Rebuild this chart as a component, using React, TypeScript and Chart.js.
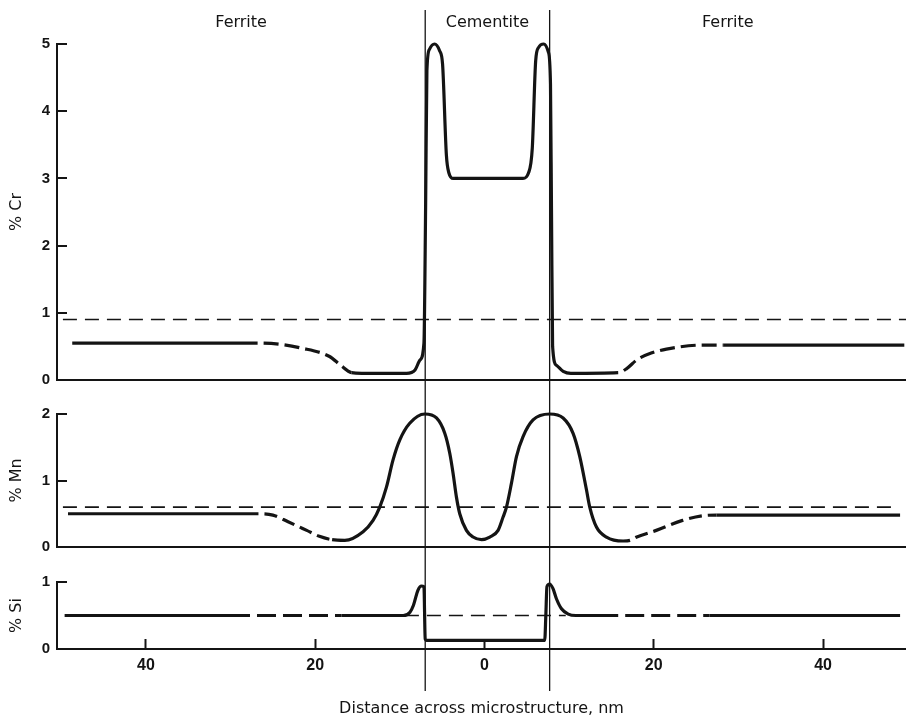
import { useEffect, useRef } from 'react';
import { Chart, registerables } from 'chart.js';

Chart.register(...registerables);

// Phase regions across the lamella and their boundaries (nm)
const PHASES = ['Ferrite', 'Cementite', 'Ferrite'];
const PHASE_BOUNDARIES = [-7.0, 7.7];

// Distance axis
const X_RANGE = [-50.5, 49.8];
const X_TICKS = [-40, -20, 0, 20, 40];

// Chromium profile
const CR_X = [-48.7, -26.8, -24.0, -21.8, -18.3, -17.0, -15.7, -14.5, -9.2, -8.2, -7.6, -7.15, -6.95, -6.8, -6.5, -5.9, -5.3, -4.95, -4.5, -4.2, -3.7, 4.55, 5.2, 5.65, 6.05, 6.4, 7.0, 7.55, 7.8, 7.92, 8.05, 8.5, 9.3, 10.2, 15.8, 16.8, 18.0, 19.7, 21.5, 25.8, 28.2, 49.6];
const CR_Y = [0.55, 0.55, 0.53, 0.48, 0.35, 0.22, 0.11, 0.1, 0.1, 0.15, 0.3, 0.55, 2.6, 4.6, 4.92, 5.0, 4.9, 4.7, 3.35, 3.08, 3.0, 3.0, 3.08, 3.45, 4.75, 4.95, 5.0, 4.88, 4.4, 2.5, 0.5, 0.22, 0.13, 0.1, 0.11, 0.17, 0.3, 0.4, 0.46, 0.52, 0.52, 0.52];
const CR_DASHED = [[-26.8, -15.7], [15.8, 28.2]];
const CR_AVERAGE = 0.9;
const CR_AVERAGE_SPAN = [-49.8, 49.8];

// Manganese profile
const MN_X = [-49.2, -26.7, -25.0, -23.2, -21.0, -19.5, -18.0, -16.5, -14.34, -13.16, -12.37, -11.58, -10.8, -10.0, -8.83, -7.05, -5.67, -4.69, -4.1, -3.71, -3.31, -2.92, -2.13, -1.35, -0.35, 0.63, 1.61, 2.2, 2.6, 3.19, 3.78, 4.56, 5.74, 7.71, 9.29, 10.47, 11.26, 12.05, 12.44, 13.23, 14.41, 16.38, 17.2, 18.0, 20.3, 23.4, 25.8, 27.4, 49.1];
const MN_Y = [0.5, 0.5, 0.48, 0.38, 0.25, 0.16, 0.11, 0.1, 0.23, 0.4, 0.6, 0.9, 1.31, 1.61, 1.86, 2.0, 1.94, 1.71, 1.41, 1.11, 0.75, 0.5, 0.25, 0.15, 0.11, 0.15, 0.25, 0.45, 0.6, 0.96, 1.36, 1.66, 1.91, 2.0, 1.94, 1.71, 1.36, 0.86, 0.6, 0.3, 0.15, 0.09, 0.1, 0.15, 0.25, 0.4, 0.47, 0.48, 0.48];
const MN_DASHED = [[-26.7, -18.0], [17.2, 27.4]];
const MN_AVERAGE = 0.6;
const MN_AVERAGE_SPAN = [-49.8, 48.1];

// Silicon profile
const SI_X = [-49.6, -27.7, -16.9, -9.6, -8.8, -8.4, -7.85, -7.45, -7.15, -7.0, -6.85, 7.12, 7.25, 7.38, 7.7, 8.1, 8.5, 9.1, 9.9, 10.8, 15.8, 26.6, 49.1];
const SI_Y = [0.5, 0.5, 0.5, 0.5, 0.55, 0.65, 0.88, 0.94, 0.93, 0.15, 0.13, 0.13, 0.5, 0.93, 0.97, 0.9, 0.75, 0.6, 0.52, 0.5, 0.5, 0.5, 0.5];
const SI_DASHED = [[-27.7, -16.9], [15.8, 26.6]];
const SI_AVERAGE = 0.5;
const SI_AVERAGE_SPAN = [-9.4, 9.6];

const INK = '#141414';
const TEXT_FONT = { family: '"DejaVu Sans", sans-serif', size: 16 };
const TICK_FONT = { family: '"Liberation Sans Narrow", "Liberation Sans", Arial, sans-serif', size: 15, weight: 'bold' as const };

const toPoints = (xs: number[], ys: number[]) => xs.map((x, i) => ({ x, y: ys[i] }));

// Segments whose midpoint falls inside one of the ranges are drawn dashed
const dashedSegments = (ranges: number[][], dash: number[]) => {
  const inside = (ctx: any) => {
    const mid = (ctx.p0.parsed.x + ctx.p1.parsed.x) / 2;
    return ranges.some(([a, b]) => mid > a && mid < b);
  };
  return {
    borderDash: (ctx: any) => (inside(ctx) ? dash : undefined),
    borderDashOffset: (ctx: any) => (inside(ctx) ? dash[0] : undefined),
  };
};

const profile = (xs: number[], ys: number[], ranges: number[][], dash: number[], axis: string) => ({
  data: toPoints(xs, ys),
  yAxisID: axis,
  borderColor: INK,
  borderWidth: 3.2,
  pointRadius: 0,
  cubicInterpolationMode: 'monotone' as const,
  borderCapStyle: 'butt' as const,
  clip: false as const,
  segment: dashedSegments(ranges, dash),
});

const average = (level: number, span: number[], axis: string) => ({
  data: span.map((x) => ({ x, y: level })),
  yAxisID: axis,
  borderColor: INK,
  borderWidth: 1.6,
  borderDash: [14, 8],
  pointRadius: 0,
  clip: false as const,
});

const concentrationAxis = (label: string, max: number, stackWeight: number, weight: number) => ({
  type: 'linear' as const,
  position: 'left' as const,
  stack: 'elements',
  stackWeight,
  weight,
  min: 0,
  max,
  ticks: { stepSize: 1, padding: 17, color: INK, font: TICK_FONT },
  grid: {
    tickLength: -10,
    tickWidth: 2,
    tickColor: INK,
    lineWidth: 2,
    color: (ctx: any) => (ctx.tick && ctx.tick.value === 0 ? INK : 'transparent'),
  },
  border: { color: INK, width: 2 },
  title: { display: true, text: label, color: INK, font: TEXT_FONT, padding: { top: 7, bottom: 0 } },
  afterFit: (scale: any) => {
    scale.width = 57;
  },
});

const spacerAxis = (stackWeight: number, weight: number) => ({
  type: 'linear' as const,
  position: 'left' as const,
  display: false,
  stack: 'elements',
  stackWeight,
  weight,
  min: 0,
  max: 1,
});

// Phase boundaries and region names
const phasePlugin = {
  id: 'phases',
  afterDraw(chart: any) {
    const { ctx } = chart;
    const x = chart.scales.x;
    const edges = [x.min, ...PHASE_BOUNDARIES, x.max];
    ctx.save();
    ctx.strokeStyle = INK;
    ctx.lineWidth = 1.3;
    PHASE_BOUNDARIES.forEach((b) => {
      const px = x.getPixelForValue(b);
      ctx.beginPath();
      ctx.moveTo(px, 10);
      ctx.lineTo(px, 691);
      ctx.stroke();
    });
    ctx.fillStyle = INK;
    ctx.font = `${TEXT_FONT.size}px ${TEXT_FONT.family}`;
    ctx.textAlign = 'center';
    ctx.textBaseline = 'alphabetic';
    PHASES.forEach((name, i) => {
      const px = x.getPixelForValue((edges[i] + edges[i + 1]) / 2);
      ctx.fillText(name, px, 26.5);
    });
    ctx.restore();
  },
};

export default function App() {
  const canvasRef = useRef<HTMLCanvasElement>(null);

  useEffect(() => {
    if (!canvasRef.current) return;
    const chart = new Chart(canvasRef.current, {
      type: 'line',
      data: {
        datasets: [
          profile(CR_X, CR_Y, CR_DASHED, [15, 6], 'cr'),
          profile(MN_X, MN_Y, MN_DASHED, [13, 6], 'mn'),
          profile(SI_X, SI_Y, SI_DASHED, [19, 7], 'si'),
          average(CR_AVERAGE, CR_AVERAGE_SPAN, 'cr'),
          average(MN_AVERAGE, MN_AVERAGE_SPAN, 'mn'),
          average(SI_AVERAGE, SI_AVERAGE_SPAN, 'si'),
        ] as any,
      },
      options: {
        responsive: false,
        animation: false,
        events: [],
        layout: { padding: { top: 44, left: 0, right: 0, bottom: 0 } },
        plugins: { legend: { display: false }, tooltip: { enabled: false } },
        scales: {
          x: {
            type: 'linear',
            position: 'bottom',
            min: X_RANGE[0],
            max: X_RANGE[1],
            afterBuildTicks: (scale: any) => {
              scale.ticks = X_TICKS.map((value) => ({ value }));
            },
            ticks: {
              autoSkip: false,
              maxRotation: 0,
              padding: 17,
              color: INK,
              font: { ...TICK_FONT, size: 16 },
              callback: (v: any) => String(Math.abs(Number(v))),
            },
            grid: { drawOnChartArea: false, tickLength: -10, tickWidth: 2, tickColor: INK },
            border: { color: INK, width: 2 },
            title: {
              display: true,
              text: 'Distance across microstructure, nm',
              color: INK,
              font: TEXT_FONT,
              padding: { top: 0, bottom: 5 },
            },
            afterFit: (scale: any) => {
              scale.height = 74;
            },
          },
          cr: concentrationAxis('% Cr', 5, 336, 5),
          gapUpper: spacerAxis(34, 4),
          mn: concentrationAxis('% Mn', 2, 133, 3),
          gapLower: spacerAxis(35, 2),
          si: concentrationAxis('% Si', 1, 67, 1),
        } as any,
      },
      plugins: [phasePlugin],
    });
    return () => chart.destroy();
  }, []);

  return (
    <div style={{ position: 'absolute', left: 0, top: 0, width: 906, height: 723, background: '#fff' }}>
      <canvas ref={canvasRef} width={906} height={723} style={{ display: 'block' }} />
    </div>
  );
}
